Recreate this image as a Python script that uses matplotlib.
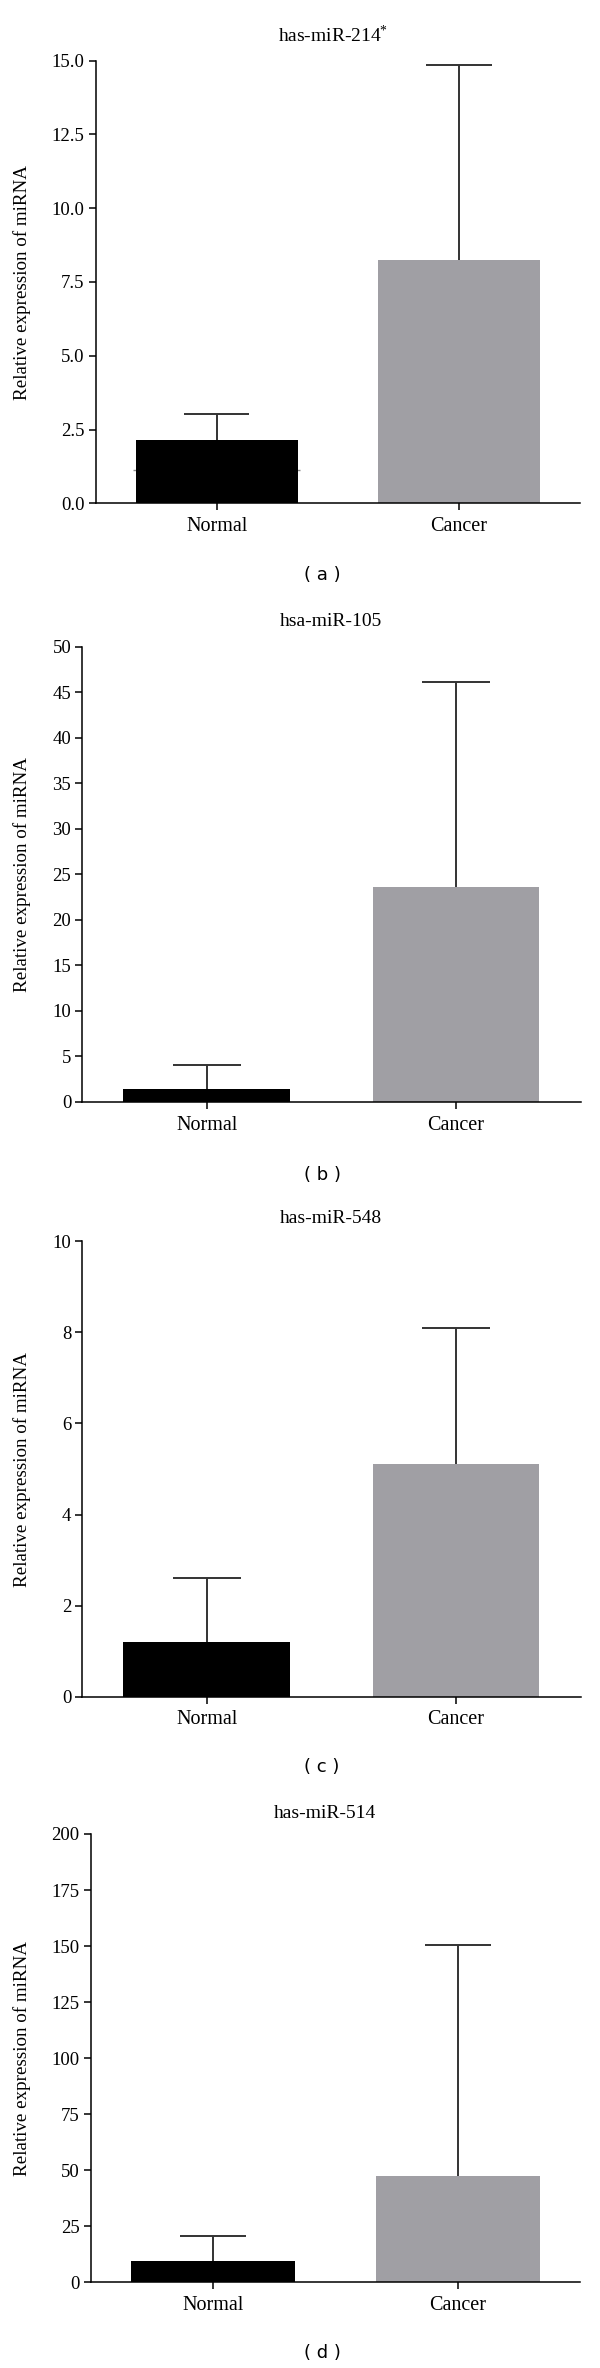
import numpy as np
import matplotlib
matplotlib.use("Agg")
import matplotlib.pyplot as plt

plt.rcParams["font.family"] = ["Liberation Serif", "DejaVu Serif"]
plt.rcParams["mathtext.fontset"] = "custom"
plt.rcParams["mathtext.rm"] = "Liberation Serif"
plt.rcParams["mathtext.default"] = "regular"

# data
groups = ["Normal", "Cancer"]
titles = ["has-miR-214$^{*}$", "hsa-miR-105", "has-miR-548", "has-miR-514"]
panel_tags = ["( a )", "( b )", "( c )", "( d )"]

mean_a = [2.14, 8.25]
sd_a = [0.90, 6.61]
mean_b = [1.38, 23.65]
sd_b = [2.62, 22.52]
mean_c = [1.20, 5.11]
sd_c = [1.40, 2.99]
mean_d = [9.4, 47.3]
sd_d = [11.1, 103.4]
low_line_a = 1.12  # faint lower line seen at the edges of the black bar in (a)

ymax = [15, 50, 10, 200]
ystep = [2.5, 5, 2, 25]
yfmt = ["%.1f", "%d", "%d", "%d"]

means = [mean_a, mean_b, mean_c, mean_d]
sds = [sd_a, sd_b, sd_c, sd_d]

W, H = 600, 2368
fig = plt.figure(figsize=(W / 100, H / 100), dpi=100)

# axes boxes in pixels: left, right, top, bottom
boxes = [
    (95.7, 580.0, 60.7, 503.3),
    (82.4, 580.5, 646.7, 1101.9),
    (82.4, 580.5, 1241.4, 1696.6),
    (90.7, 580.0, 1834.0, 2282.3),
]
title_pos = [(333, 35.6), (331, 621), (331, 1218.4), (325, 1813)]
tag_pos = [(322, 575), (322, 1175), (322, 1767), (322, 2353)]

bar_colors = ["#000000", "#a09fa4"]
err_color = "#333333"
x = np.arange(len(groups))
width = 0.67
cap = 0.135

for i in range(4):
    l, r, t, b = boxes[i]
    ax = fig.add_axes([l / W, 1 - b / H, (r - l) / W, (b - t) / H])

    if i == 0:
        ax.hlines(low_line_a, x[0] - width / 2 - 0.01, x[0] + width / 2 + 0.01,
                  color="#8a8a8a", lw=1.0, zorder=1)
    ax.bar(x, means[i], width=width, color=bar_colors, zorder=2)
    tops = np.array(means[i]) + np.array(sds[i])
    ax.vlines(x, means[i], tops, color=err_color, lw=1.4, zorder=3)
    ax.hlines(tops, x - cap, x + cap, color=err_color, lw=1.4, zorder=3)

    ax.set_xlim(-0.5, 1.5)
    ax.set_ylim(0, ymax[i])
    ax.set_yticks(np.arange(0, ymax[i] + ystep[i] / 2, ystep[i]))
    ax.yaxis.set_major_formatter(matplotlib.ticker.FormatStrFormatter(yfmt[i]))
    ax.set_xticks(x)
    ax.set_xticklabels(groups, fontsize=14.5)
    ax.tick_params(axis="y", labelsize=13.5, length=5, width=1.1, pad=3)
    ax.tick_params(axis="x", length=5, width=1.1, pad=5)

    for s in ["top", "right"]:
        ax.spines[s].set_visible(False)
    for s in ["left", "bottom"]:
        ax.spines[s].set_linewidth(1.1)

    ax.set_ylabel("Relative expression of miRNA", fontsize=13.7)
    ax.yaxis.set_label_coords((31 - l) / (r - l), 0.5)

    tx, ty = title_pos[i]
    fig.text(tx / W, 1 - ty / H, titles[i], fontsize=14, ha="center", va="center")
    gx, gy = tag_pos[i]
    fig.text(gx / W, 1 - gy / H, panel_tags[i], fontsize=13,
             family="DejaVu Sans", ha="center", va="center")

fig.savefig("out.png", dpi=100, facecolor="white")
